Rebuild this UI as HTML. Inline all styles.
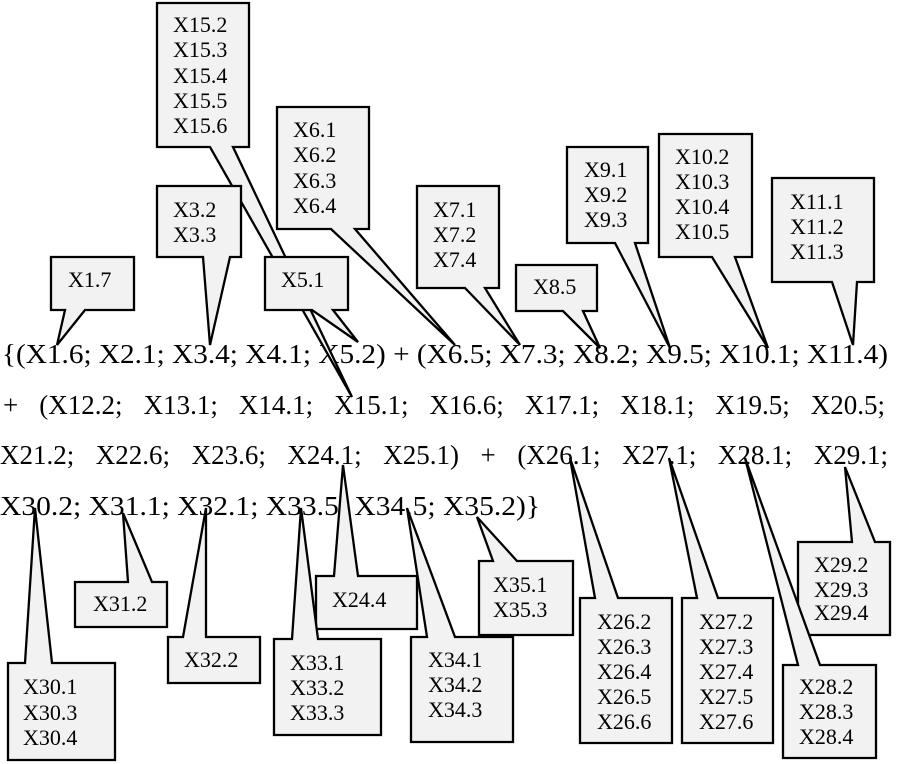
<!DOCTYPE html>
<html><head><meta charset="utf-8"><style>
html,body{margin:0;padding:0;background:#fff;}
svg{display:block;position:absolute;left:0;top:0;}
.t{font-family:"Liberation Serif",serif;font-size:27px;fill:#000;}
.c{font-family:"Liberation Serif",serif;font-size:22px;fill:#000;}
polygon{fill:#f2f2f2;stroke:#000;stroke-width:2.3;stroke-linejoin:miter;}
.j{position:absolute;font-family:"Liberation Serif",serif;font-size:27px;line-height:27px;text-align:justify;text-align-last:justify;white-space:normal;color:#000;}
</style></head><body>
<div class="j" style="left:3px;top:392px;width:882px;">+ (X12.2; X13.1; X14.1; X15.1; X16.6; X17.1; X18.1; X19.5; X20.5;</div>
<div class="j" style="left:0px;top:442px;width:888px;">X21.2; X22.6; X23.6; X24.1; X25.1) + (X26.1; X27.1; X28.1; X29.1;</div>
<svg width="900" height="764" viewBox="0 0 900 764" xmlns="http://www.w3.org/2000/svg">
<text class="t" x="2" y="363" textLength="886" lengthAdjust="spacingAndGlyphs">{(X1.6; X2.1; X3.4; X4.1; X5.2) + (X6.5; X7.3; X8.2; X9.5; X10.1; X11.4)</text>
<text class="t" x="0" y="515" textLength="540" lengthAdjust="spacingAndGlyphs">X30.2; X31.1; X32.1; X33.5; X34.5; X35.2)}</text>

<polygon points="157,3 249,3 249,147 233,147 352,397 210,147 157,147"/>
<polygon points="157,186 241,186 241,257 230,257 210,345 203,257 157,257"/>
<polygon points="51,257 134,257 134,310 85,310 57,345 65,310 51,310"/>
<polygon points="265,257 348,257 348,310 333,310 358,342 312,310 265,310"/>
<polygon points="277,107 369,107 369,229 355,229 455,345 331,229 277,229"/>
<polygon points="417,186 499,186 499,288 485,288 520,345 465,288 417,288"/>
<polygon points="516,265 597,265 597,311 583,311 600,348 563,311 516,311"/>
<polygon points="567,147 648,147 648,243 635,243 670,348 615,243 567,243"/>
<polygon points="659,134 752,134 752,257 735,257 768,348 712,257 659,257"/>
<polygon points="772,178 874,178 874,282 857,282 853,345 832,282 772,282"/>

<polygon points="8,663 25,663 35,508 52,663 115,663 115,760 8,760"/>
<polygon points="75,582 128,582 123,513 152,582 167,582 167,627 75,627"/>
<polygon points="168,637 183,637 206,508 206,637 260,637 260,683 168,683"/>
<polygon points="316,576 334,576 343,465 358,576 417,576 417,629 316,629"/>
<polygon points="274,639 292,639 301,508 318,639 381,639 381,735 274,735"/>
<polygon points="411,637 427,637 407,508 455,637 513,637 513,742 411,742"/>
<polygon points="479,561 493,561 477,517 517,561 573,561 573,635 479,635"/>
<polygon points="580,598 595,598 570,458 618,598 672,598 672,743 580,743"/>
<polygon points="682,598 697,598 669,458 718,598 773,598 773,743 682,743"/>
<polygon points="798,542 852,542 845,467 875,542 890,542 890,635 798,635"/>
<polygon points="783,665 798,665 745,458 820,665 876,665 876,758 783,758"/>

<text class="c" x="173" y="32">X15.2</text><text class="c" x="173" y="57">X15.3</text><text class="c" x="173" y="83">X15.4</text><text class="c" x="173" y="108">X15.5</text><text class="c" x="173" y="133">X15.6</text>
<text class="c" x="173" y="217">X3.2</text><text class="c" x="173" y="242">X3.3</text>
<text class="c" x="68" y="287">X1.7</text>
<text class="c" x="281" y="287">X5.1</text>
<text class="c" x="293" y="137">X6.1</text><text class="c" x="293" y="162">X6.2</text><text class="c" x="293" y="188">X6.3</text><text class="c" x="293" y="213">X6.4</text>
<text class="c" x="433" y="217">X7.1</text><text class="c" x="433" y="242">X7.2</text><text class="c" x="433" y="267">X7.4</text>
<text class="c" x="533" y="294">X8.5</text>
<text class="c" x="584" y="177">X9.1</text><text class="c" x="584" y="202">X9.2</text><text class="c" x="584" y="227">X9.3</text>
<text class="c" x="675" y="164">X10.2</text><text class="c" x="675" y="189">X10.3</text><text class="c" x="675" y="214">X10.4</text><text class="c" x="675" y="239">X10.5</text>
<text class="c" x="790" y="209">X11.1</text><text class="c" x="790" y="234">X11.2</text><text class="c" x="790" y="259">X11.3</text>

<text class="c" x="23" y="694">X30.1</text><text class="c" x="23" y="720">X30.3</text><text class="c" x="23" y="745">X30.4</text>
<text class="c" x="93" y="611">X31.2</text>
<text class="c" x="184" y="667">X32.2</text>
<text class="c" x="332" y="607">X24.4</text>
<text class="c" x="290" y="670">X33.1</text><text class="c" x="290" y="695">X33.2</text><text class="c" x="290" y="720">X33.3</text>
<text class="c" x="428" y="667">X34.1</text><text class="c" x="428" y="692">X34.2</text><text class="c" x="428" y="717">X34.3</text>
<text class="c" x="493" y="592">X35.1</text><text class="c" x="493" y="617">X35.3</text>
<text class="c" x="597" y="629">X26.2</text><text class="c" x="597" y="654">X26.3</text><text class="c" x="597" y="679">X26.4</text><text class="c" x="597" y="704">X26.5</text><text class="c" x="597" y="729">X26.6</text>
<text class="c" x="699" y="629">X27.2</text><text class="c" x="699" y="654">X27.3</text><text class="c" x="699" y="679">X27.4</text><text class="c" x="699" y="704">X27.5</text><text class="c" x="699" y="729">X27.6</text>
<text class="c" x="814" y="572">X29.2</text><text class="c" x="814" y="597">X29.3</text><text class="c" x="814" y="620">X29.4</text>
<text class="c" x="799" y="694">X28.2</text><text class="c" x="799" y="719">X28.3</text><text class="c" x="799" y="744">X28.4</text>
</svg>
</body></html>
